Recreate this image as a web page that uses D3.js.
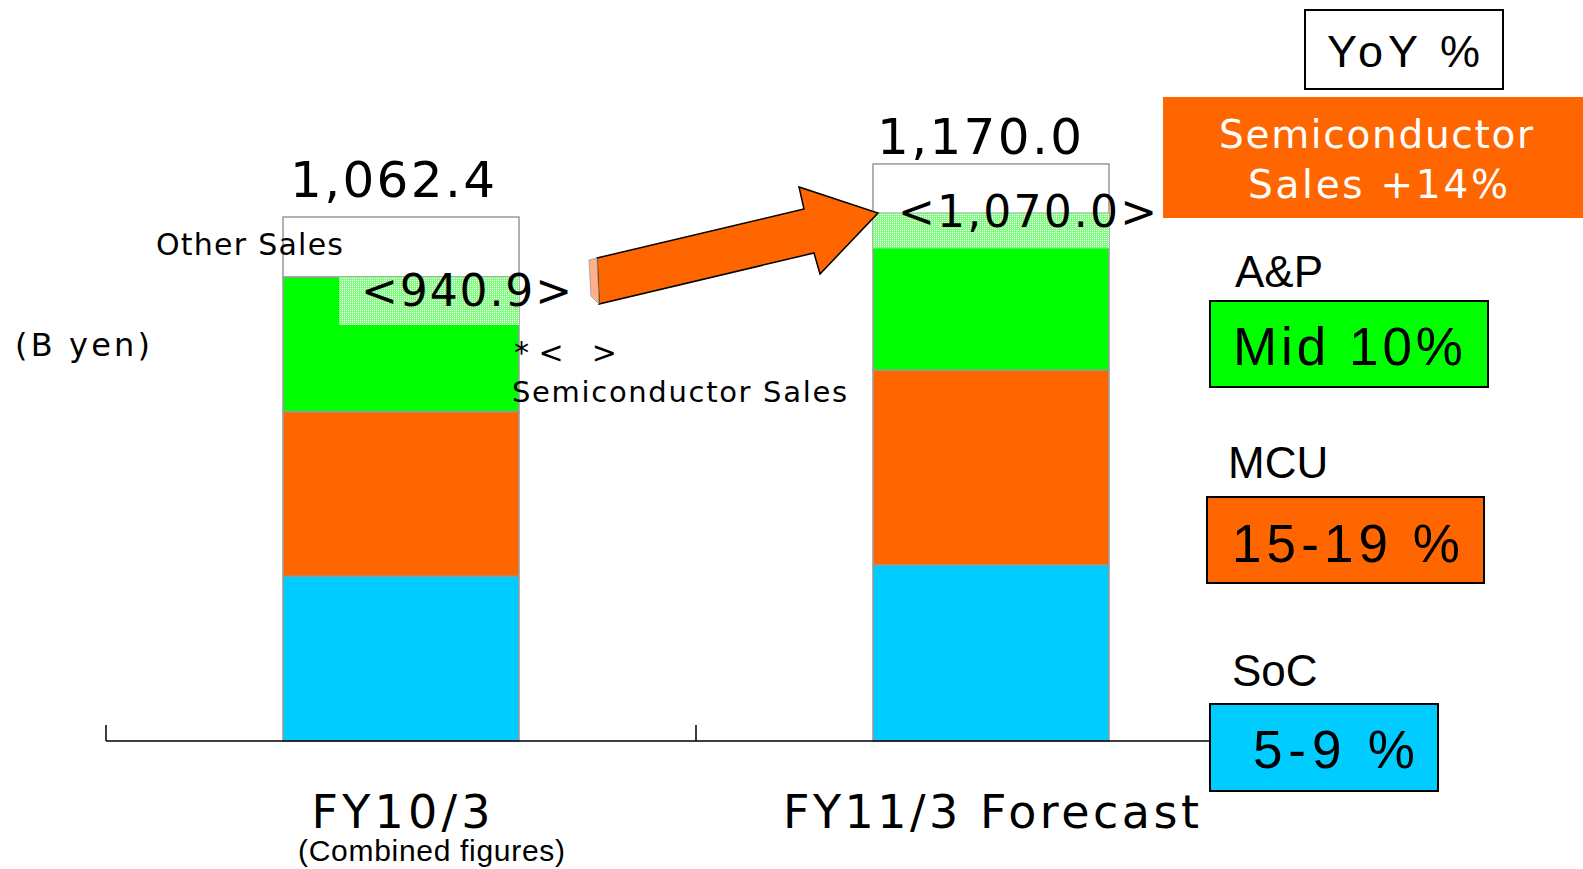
<!DOCTYPE html>
<html lang="en">
<head>
<meta charset="UTF-8">
<title>Semiconductor Sales</title>
<script src="https://d3js.org/d3.v7.min.js"></script>
<style>
  body { margin: 0; background: #fff; }
  svg { display: block; font-family: "DejaVu Sans", sans-serif; }
</style>
</head>
<body>
<svg id="chart" width="1583" height="869"></svg>
<script>
// data (B yen)
const categories = ["FY10/3", "FY11/3 Forecast"];
const segments = ["SoC", "MCU", "A&P", "Other"];
const socSales = [334, 357];
const mcuSales = [334, 395];
const apSales = [272.9, 318];
const otherSales = [121.5, 100];
const totalLabels = ["1,062.4", "1,170.0"];
const semiLabels = ["<940.9>", "<1,070.0>"];
const yoyLabels = ["5-9 %", "15-19 %", "Mid 10%"];
const colors = { "SoC": "#00ccff", "MCU": "#ff6600", "A&P": "#00ff00", "Other": "#ffffff" };

const rows = categories.map((c, i) => ({
  cat: c, "SoC": socSales[i], "MCU": mcuSales[i], "A&P": apSales[i], "Other": otherSales[i]
}));

const svg = d3.select("#chart");
const baseY = 741;
const arial = "'Liberation Sans', Arial, sans-serif";

const x = d3.scaleBand().domain(categories).range([106, 1286]).padding(0);
const barW = x.bandwidth() * 0.4;
const y = d3.scaleLinear().domain([0, 1200]).range([baseY, baseY - 1200 * 0.4932]);

const defs = svg.append("defs");
const pat = defs.append("pattern").attr("id", "dots")
  .attr("width", 2).attr("height", 2).attr("patternUnits", "userSpaceOnUse");
pat.append("rect").attr("width", 2).attr("height", 2).attr("fill", "#7dff7d");
pat.append("rect").attr("width", 1).attr("height", 1).attr("fill", "#ffffff");

const stacked = d3.stack().keys(segments)(rows);

svg.append("g").selectAll("g")
  .data(stacked)
  .join("g")
  .attr("fill", d => colors[d.key])
  .selectAll("rect")
  .data(d => d)
  .join("rect")
  .attr("x", d => x(d.data.cat) + (x.bandwidth() - barW) / 2)
  .attr("y", d => y(d[1]))
  .attr("width", barW)
  .attr("height", d => y(d[0]) - y(d[1]))
  .attr("stroke", "#999")
  .attr("stroke-width", 1.5);

// axis line + band ticks
const axis = svg.append("g");
axis.append("line")
  .attr("x1", x.range()[0]).attr("x2", 1210)
  .attr("y1", baseY).attr("y2", baseY)
  .attr("stroke", "#000").attr("stroke-width", 1.5);
axis.selectAll("line.tick")
  .data(categories.map(c => x(c)).concat([x.range()[1]]))
  .join("line").attr("class", "tick")
  .attr("x1", d => d).attr("x2", d => d)
  .attr("y1", baseY).attr("y2", baseY - 16)
  .attr("stroke", "#000").attr("stroke-width", 1.5);

const barCenter = i => x(categories[i]) + x.bandwidth() / 2;
const semiTop = i => y(socSales[i] + mcuSales[i] + apSales[i]);

// dotted label boxes for semiconductor totals
svg.append("rect").attr("x", barCenter(0) - 62).attr("y", semiTop(0))
  .attr("width", barCenter(0) + barW / 2 - (barCenter(0) - 62)).attr("height", 48)
  .attr("fill", "url(#dots)");
svg.append("rect").attr("x", barCenter(1) - barW / 2).attr("y", semiTop(1))
  .attr("width", barW).attr("height", 35)
  .attr("fill", "url(#dots)");

function txt(s, px, py, size, len, opts = {}) {
  const t = svg.append("text")
    .attr("x", px).attr("y", py)
    .attr("font-size", size)
    .attr("fill", opts.fill || "#000")
    .attr("text-anchor", opts.anchor || "start")
    .text(s);
  if (len) t.attr("textLength", len).attr("lengthAdjust", "spacing");
  if (opts.family) t.attr("font-family", opts.family);
  return t;
}

// totals
totalLabels.forEach((l, i) => {
  const tot = socSales[i] + mcuSales[i] + apSales[i] + otherSales[i];
  txt(l, barCenter(i) - 111 + (i === 0 ? 0 : -3), y(tot) - (i === 0 ? 20 : 10), 50, 205);
});
txt(semiLabels[0], 361, semiTop(0) + 29, 44, 211);
txt(semiLabels[1], 898, semiTop(1) + 14, 44, 259);

txt("Other Sales", 156, 255, 30, 187);
txt("(B yen)", 15, 356, 32, 135);
txt("*<   >", 514, 363, 30, 103);
txt("Semiconductor Sales", 512, 402, 29, 335);

// arrow
svg.append("polygon")
  .attr("points", [[597,258],[804,209],[799,187],[878,213],[820,274],[814,253],[599,304]].map(p => p.join(",")).join(" "))
  .attr("fill", "#ff6600").attr("stroke", "#000").attr("stroke-width", 1.5)
  .attr("stroke-linejoin", "miter");
svg.append("polygon")
  .attr("points", "589,260 597,258 599,304 591,296")
  .attr("fill", "#ffb088").attr("stroke", "#999").attr("stroke-width", 0.8);

// category labels
categories.forEach((c, i) => {
  txt(c, barCenter(i), 828, 46, i === 0 ? 179 : 416, { anchor: "middle" });
});
txt("(Combined figures)", 298, 861, 30, 267, { family: "'Liberation Sans Narrow', 'Liberation Sans', sans-serif" });

// YoY legend
svg.append("rect").attr("x", 1305).attr("y", 10).attr("width", 198).attr("height", 79)
  .attr("fill", "#fff").attr("stroke", "#000").attr("stroke-width", 2);
txt("YoY %", 1327, 67, 45, 153, { family: arial });

svg.append("rect").attr("x", 1163).attr("y", 97).attr("width", 430).attr("height", 121)
  .attr("fill", "#ff6600");
txt("Semiconductor", 1219, 148, 39, 314, { fill: "#fff" });
txt("Sales +14%", 1248, 198, 39, 260, { fill: "#fff" });

const legendRows = [
  { name: "A&P", nameX: 1235, nameY: 287, box: [1210, 301, 278, 86], label: yoyLabels[2], lx: 1233, ly: 365, lw: 230 },
  { name: "MCU", nameX: 1228, nameY: 478, box: [1207, 497, 277, 86], label: yoyLabels[1], lx: 1232, ly: 562, lw: 228 },
  { name: "SoC", nameX: 1232, nameY: 686, box: [1210, 704, 228, 87], label: yoyLabels[0], lx: 1253, ly: 768, lw: 162 }
];
legendRows.forEach(r => {
  txt(r.name, r.nameX, r.nameY, 44, null, { family: arial });
  svg.append("rect").attr("x", r.box[0]).attr("y", r.box[1])
    .attr("width", r.box[2]).attr("height", r.box[3])
    .attr("fill", colors[r.name]).attr("stroke", "#000").attr("stroke-width", 2);
  txt(r.label, r.lx, r.ly, 53, r.lw, { family: arial });
});
</script>
</body>
</html>
